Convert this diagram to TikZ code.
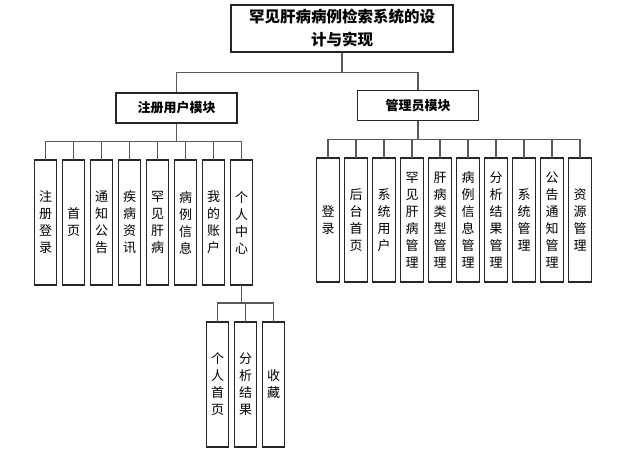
\documentclass[tikz,border=0pt]{standalone}
\usepackage{fontspec}
\usetikzlibrary{positioning}
\newfontfamily\cjk{Noto Sans CJK SC}
\definecolor{edge}{HTML}{262626}
\definecolor{wire}{HTML}{595959}
\tikzset{top/.style={draw=edge,line width=1.2pt,align=center,font=\cjk\bfseries\fontsize{15.5}{23}\selectfont,minimum width=222pt,minimum height=47pt,inner sep=0pt},
mod/.style={draw=edge,line width=1.2pt,align=center,font=\cjk\bfseries\fontsize{13}{16}\selectfont,minimum width=121pt,minimum height=30pt,inner sep=0pt},
leaf/.style={draw=edge,line width=1.2pt,align=center,font=\cjk\fontsize{13}{17}\selectfont,minimum width=22.5pt,minimum height=125pt,inner sep=0pt,outer sep=0pt},
link/.style={draw=wire,line width=1.2pt}}

\begin{document}
\begin{tikzpicture}[x=1pt,y=-1pt,node distance=5.5pt]
\useasboundingbox (0,0) rectangle (630,453);
\node[top] (sys) at (342,28.5) {罕见肝病病例检索系统的设\\计与实现};
\node[mod] (user) at (176.5,108) {注册用户模块};
\node[mod] (admin) at (418,105.5) {管理员模块};
% registered user leaves
\node[leaf] (u1) at (45.5,222.5) {注\\册\\登\\录};
\node[leaf,right=of u1] (u2) {首\\页};
\node[leaf,right=of u2] (u3) {通\\知\\公\\告};
\node[leaf,right=of u3] (u4) {疾\\病\\资\\讯};
\node[leaf,right=of u4] (u5) {罕\\见\\肝\\病};
\node[leaf,right=of u5] (u6) {病\\例\\信\\息};
\node[leaf,right=of u6] (u7) {我\\的\\账\\户};
\node[leaf,right=of u7] (u8) {个\\人\\中\\心};
% personal centre leaves
\node[leaf] (p1) at (217.5,384.5) {个\\人\\首\\页};
\node[leaf,right=of p1] (p2) {分\\析\\结\\果};
\node[leaf,right=of p2] (p3) {收\\藏};
% admin leaves
\node[leaf,minimum height=124pt] (a1) at (328,220) {登\\录};
\node[leaf,minimum height=124pt,right=of a1] (a2) {后\\台\\首\\页};
\node[leaf,minimum height=124pt,right=of a2] (a3) {系\\统\\用\\户};
\node[leaf,minimum height=124pt,right=of a3] (a4) {罕\\见\\肝\\病\\管\\理};
\node[leaf,minimum height=124pt,right=of a4] (a5) {肝\\病\\类\\型\\管\\理};
\node[leaf,minimum height=124pt,right=of a5] (a6) {病\\例\\信\\息\\管\\理};
\node[leaf,minimum height=124pt,right=of a6] (a7) {分\\析\\结\\果\\管\\理};
\node[leaf,minimum height=124pt,right=of a7] (a8) {系\\统\\管\\理};
\node[leaf,minimum height=124pt,right=of a8] (a9) {公\\告\\通\\知\\管\\理};
\node[leaf,minimum height=124pt,right=of a9] (a10) {资\\源\\管\\理};
% connectors
\foreach \m in {user,admin} \draw[link] (sys.south) -- ++(0,19.5) -| (\m.north);
\foreach \l in {u1,u2,u3,u4,u5,u6,u7,u8} \draw[link] (user.south) -- ++(0,18) -| (\l.north);
\foreach \l in {a1,a2,a3,a4,a5,a6,a7,a8,a9,a10} \draw[link] (admin.south) -- ++(0,18.5) -| (\l.north);
\foreach \l in {p1,p2,p3} \draw[link] (u8.south) -- ++(0,18) -| (\l.north);
\end{tikzpicture}
\end{document}
